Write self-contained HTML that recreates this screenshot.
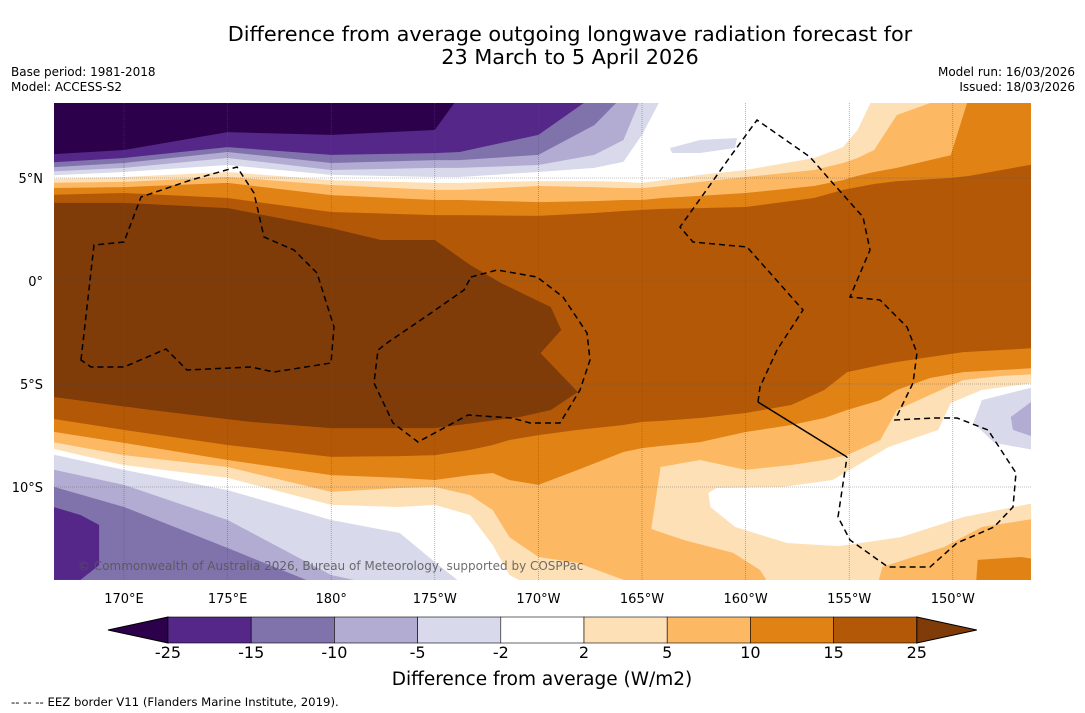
<!DOCTYPE html>
<html><head><meta charset="utf-8"><style>
body{margin:0;background:#fff;width:1085px;height:713px;overflow:hidden;font-family:"DejaVu Sans","Liberation Sans",sans-serif;}
svg{display:block}
</style></head><body>
<svg id="chart" width="1085" height="713" viewBox="0 0 1085 713">
<text x="570" y="41" text-anchor="middle" font-size="20.8" fill="#000">Difference from average outgoing longwave radiation forecast for</text>
<text x="570" y="64" text-anchor="middle" font-size="20.8" fill="#000">23 March to 5 April 2026</text>
<text x="11" y="76" font-size="12">Base period: 1981-2018</text>
<text x="11" y="91" font-size="12">Model: ACCESS-S2</text>
<text x="1075" y="76" font-size="12" text-anchor="end">Model run: 16/03/2026</text>
<text x="1075" y="91" font-size="12" text-anchor="end">Issued: 18/03/2026</text>
<defs><clipPath id="mapclip"><rect x="54" y="103" width="977" height="477"/></clipPath></defs>
<g id="map" clip-path="url(#mapclip)"></g>
<g id="axes"></g>
<g id="cbar"></g>
<text x="542" y="685" text-anchor="middle" font-size="18.5">Difference from average (W/m2)</text>
<text x="11" y="706" font-size="11.7">--  --  -- EEZ border V11 (Flanders Marine Institute, 2019).</text>
</svg>
<script>
const NS="http://www.w3.org/2000/svg";
const COLORS=["#2d004b","#542788","#8073ac","#b2abd2","#d8daeb","#ffffff","#fee0b6","#fdb863","#e08214","#b35806","#7f3b08"];
const LEVELS=["-25","-15","-10","-5","-2","2","5","10","15","25"];
const LON_TICKS=[170,175,180,185,190,195,200,205,210];
const LON_LABELS=["170°E","175°E","180°","175°W","170°W","165°W","160°W","155°W","150°W"];
const LAT_TICKS=[5,0,-5,-10];
const LAT_LABELS=["5°N","0°","5°S","10°S"];
const lonsN=[166.6,170,175,180,185,186.2,190,192.7,194.1,195,196,197.8,200,203.3,204.7,205.4,206.2,207.3,209.9,210.8,213.8];
const nOrange=[4.17,4.27,4.03,3.35,3.20,3.20,3.16,3.30,3.40,3.45,3.50,3.54,3.59,4.03,4.42,4.56,4.71,4.85,5.0,5.10,5.87];
const nLightOrange=[4.51,4.56,4.76,4.17,3.93,3.93,3.83,3.88,3.93,3.93,4.03,4.13,4.27,4.61,4.90,5.10,5.29,5.49,6.1,9,9];
const nTan=[4.76,4.81,5.05,4.66,4.42,4.42,4.61,4.56,4.51,4.51,4.61,4.81,5.05,5.39,5.73,5.97,6.36,8.06,9,9,9];
const nWhite=[4.95,5.05,5.29,4.90,4.76,4.76,4.85,4.85,4.81,4.76,4.90,5.15,5.39,5.97,6.50,7.33,9,9,9,9,9];
const nLav1=[5.10,5.29,5.63,5.15,5.05,5.05,5.29,5.49,5.78,7.09,9,9,9,9,9,9,9,9,9,9,9];
const nLav2=[5.29,5.49,5.97,5.39,5.49,5.49,5.63,6.12,6.84,9,9,9,9,9,9,9,9,9,9,9,9];
const nPur1=[5.49,5.73,6.26,5.73,5.87,5.87,6.12,7.57,9,9,9,9,9,9,9,9,9,9,9,9,9];
const nPur2=[5.73,5.97,6.50,6.12,6.21,6.26,7.09,9,9,9,9,9,9,9,9,9,9,9,9,9,9];
const nPur3=[6.12,6.36,7.23,7.09,7.33,9,9,9,9,9,9,9,9,9,9,9,9,9,9,9,9];
const lonsS=[166.6,170,175,180,183.3,185,186.7,187.8,188.6,190,191.9,194.1,195,195.9,197.8,200,202.2,203.8,204.9,206.5,207.3,208.9,210.5,212.3,213.8];
const sOrange=[-6.60,-7.23,-7.96,-8.54,-8.50,-8.45,-8.20,-7.96,-7.72,-7.48,-7.23,-6.99,-6.84,-6.79,-6.65,-6.41,-6.02,-5.29,-4.42,-4.08,-3.93,-3.69,-3.45,-3.35,-3.20];
const sLightOrange=[-7.23,-7.86,-8.69,-9.42,-9.56,-9.66,-9.42,-9.32,-9.66,-9.90,-9.17,-8.30,-8.11,-8.01,-7.82,-7.33,-6.99,-6.65,-6.26,-5.78,-5.29,-4.71,-4.42,-4.32,-4.17];
const sTan=[-7.72,-8.45,-9.03,-10.24,-10.05,-10.0,-10.39,-11.12,-12.43,-13.40,-13.69,-14.5,-15,-9.03,-8.69,-9.17,-8.93,-8.69,-8.45,-7.72,-6.26,-5.53,-4.81,-4.61,-4.47];
const sWhite=[-8.01,-8.93,-9.56,-10.87,-10.97,-10.87,-11.36,-12.82,-14.27,-15,-15,-15,-15,-15,-15,-15,-15,-15,-15,-15,-15,-15,-15,-15,-15];
const sLav1=[-8.30,-9.17,-10.15,-11.60,-12.23,-13.64,-15,-15,-15,-15,-15,-15,-15,-15,-15,-15,-15,-15,-15,-15,-15,-15,-15,-15,-15];
const sLav2=[-9.03,-9.90,-11.60,-14.27,-15,-15,-15,-15,-15,-15,-15,-15,-15,-15,-15,-15,-15,-15,-15,-15,-15,-15,-15,-15,-15];
const sPur1=[-9.81,-10.97,-12.96,-15,-15,-15,-15,-15,-15,-15,-15,-15,-15,-15,-15,-15,-15,-15,-15,-15,-15,-15,-15,-15,-15];
const corePatch=[[166.6,3.79],[170,3.79],[175,3.54],[180,2.57],[182.4,1.99],[185,1.99],[186.7,0.78],[188.2,-0.10],[189.6,-0.78],[190.6,-1.26],[191.1,-2.38],[190.1,-3.50],[191.9,-5.39],[190.6,-6.26],[189.1,-6.60],[185,-7.14],[180,-7.14],[176.1,-6.84],[171.3,-6.26],[166.6,-5.63]];
const tongue=[[194.8,-10.29],[193.9,-10.97],[194.6,-11.75],[197.0,-12.57],[199.4,-13.20],[200.7,-14.03],[201.0,-14.51],[201.0,-15.5],[194.6,-15.5]];
const whiteIsland=[[198.2,-10.29],[198.6,-10.05],[201.8,-10.0],[204.2,-9.66],[206.9,-8.06],[209.3,-7.23],[209.9,-5.92],[211.4,-5.29],[213.9,-4.95],[213.9,-10.78],[210.5,-11.46],[207.5,-12.43],[204.5,-12.87],[202.0,-12.72],[199.5,-11.94],[198.3,-10.97]];
const lavIsland=[[213.9,-5.15],[211.4,-5.78],[211,-6.89],[212,-7.86],[213.9,-8.20]];
const lav2Island=[[213.9,-5.78],[212.8,-6.60],[212.9,-7.23],[213.9,-7.57]];
const tanBR=[[206.3,-15],[206.6,-13.88],[209.6,-12.91],[211.4,-11.94],[213.9,-11.55],[213.9,-15]];
const orangeBR=[[211.1,-15],[211.2,-13.54],[213.3,-13.40],[213.9,-13.50],[213.9,-15]];
const purBL=[[166.6,-10.97],[167.9,-11.36],[168.8,-11.84],[168.8,-13.79],[167.9,-14.51],[166.6,-14.51]];

const X=lon=>124+(lon-170)*20.72;
const Y=lat=>281-lat*20.6;
const mapG=document.getElementById('map');
function poly(pts,fill,name){
  const p=document.createElementNS(NS,'polygon');
  p.setAttribute('points',pts.map(q=>X(q[0]).toFixed(1)+','+Y(q[1]).toFixed(1)).join(' '));
  p.setAttribute('fill',fill);
  
  
  mapG.appendChild(p);
}
function rect(x,y,w,h,fill,name){
  const r=document.createElementNS(NS,'rect');
  r.setAttribute('x',x);r.setAttribute('y',y);r.setAttribute('width',w);r.setAttribute('height',h);r.setAttribute('fill',fill);
  
  
  mapG.appendChild(r);
}
rect(54,103,977,477,COLORS[9],'band-15-to-25');
function fromTop(lons,lats,fill,name){
  const pts=[[166,10]].concat(lons.map((l,i)=>[l,lats[i]]));pts.push([215,10]);
  pts[1][0]=166;pts[pts.length-2][0]=215;
  poly(pts,fill,name);
}
function fromBottom(lons,lats,fill,name){
  const pts=[[166,-16]].concat(lons.map((l,i)=>[l,lats[i]]));pts.push([215,-16]);
  pts[1][0]=166;pts[pts.length-2][0]=215;
  poly(pts,fill,name);
}
fromTop(lonsN,nOrange,COLORS[8],'north-band-10-to-15');
fromTop(lonsN,nLightOrange,COLORS[7],'north-band-5-to-10');
fromTop(lonsN,nTan,COLORS[6],'north-band-2-to-5');
fromTop(lonsN,nWhite,COLORS[5],'north-band-neutral');
fromTop(lonsN,nLav1,COLORS[4],'north-band-minus5-to-minus2');
fromTop(lonsN,nLav2,COLORS[3],'north-band-minus10-to-minus5');
fromTop(lonsN,nPur1,COLORS[2],'north-band-minus15-to-minus10');
fromTop(lonsN,nPur2,COLORS[1],'north-band-minus25-to-minus15');
fromTop(lonsN,nPur3,COLORS[0],'north-band-below-minus25');
fromBottom(lonsS,sOrange,COLORS[8],'south-band-10-to-15');
fromBottom(lonsS,sLightOrange,COLORS[7],'south-band-5-to-10');
fromBottom(lonsS,sTan,COLORS[6],'south-band-2-to-5');
fromBottom(lonsS,sWhite,COLORS[5],'south-band-neutral');
fromBottom(lonsS,sLav1,COLORS[4],'south-band-minus5-to-minus2');
fromBottom(lonsS,sLav2,COLORS[3],'south-band-minus10-to-minus5');
fromBottom(lonsS,sPur1,COLORS[2],'south-band-minus15-to-minus10');
poly(purBL,COLORS[1],'south-purple-patch');
poly(tongue,COLORS[7],'south-orange-tongue');
poly(whiteIsland,COLORS[5],'east-neutral-patch');
poly(lavIsland,COLORS[4],'east-lavender-patch');
poly(lav2Island,COLORS[3],'east-lavender-core');
poly(tanBR,COLORS[7],'southeast-orange-patch');
poly(orangeBR,COLORS[8],'southeast-dark-orange-patch');
poly(corePatch,COLORS[10],'core-above-25');
(function(){const p=document.createElementNS(NS,'polygon');
p.setAttribute('points','670,148 700,140 737,138 735,148 700,153 672,153');p.setAttribute('fill','#d8daeb');


mapG.appendChild(p);})();
LON_TICKS.forEach(l=>{const ln=document.createElementNS(NS,'line');ln.setAttribute('x1',X(l));ln.setAttribute('x2',X(l));ln.setAttribute('y1',103);ln.setAttribute('y2',580);ln.setAttribute('stroke','#555');ln.setAttribute('stroke-width','0.6');ln.setAttribute('stroke-dasharray','1 1');ln.setAttribute('opacity','0.7');


mapG.appendChild(ln);});
LAT_TICKS.forEach(l=>{const ln=document.createElementNS(NS,'line');ln.setAttribute('y1',Y(l));ln.setAttribute('y2',Y(l));ln.setAttribute('x1',54);ln.setAttribute('x2',1031);ln.setAttribute('stroke','#555');ln.setAttribute('stroke-width','0.6');ln.setAttribute('stroke-dasharray','1 1');ln.setAttribute('opacity','0.7');


mapG.appendChild(ln);});
function eez(d,dash,name){const p=document.createElementNS(NS,'path');p.setAttribute('d',d);p.setAttribute('fill','none');p.setAttribute('stroke','#000');p.setAttribute('stroke-width','1.5');if(dash)p.setAttribute('stroke-dasharray','6 4');


mapG.appendChild(p);}
eez('M81,360 L94,245 L124,242 L141,197 L191,180 L237,167 L254,193 L264,237 L294,250 L317,273 L334,327 L331,363 L274,372 L251,367 L187,370 L166,349 L124,367 L91,367 Z',true,'eez-border-tuvalu');
eez('M471,277 L497,270 L537,277 L563,297 L587,333 L590,360 L580,390 L560,423 L530,423 L512,418 L468,415 L418,442 L393,423 L374,383 L378,350 L387,343 L431,313 L464,290 Z',true,'eez-border-tokelau');
eez('M758,402 L760,387 L777,350 L803,310 L747,247 L693,242 L680,227 L730,157 L757,120 L810,157 L830,180 L863,217 L870,250 L850,297 L880,300 L907,327 L917,353 L913,383 L895,420 L935,418 L957,418 L988,430 L1016,473 L1013,507 L994,527 L957,543 L930,567 L888,567 L850,540 L838,517 L847,457',true,'eez-border-kiribati');
eez('M758,402 L847,457',false,'eez-border-solid-segment');
(function(){const t=document.createElementNS(NS,'text');t.setAttribute('x',78);t.setAttribute('y',570);t.setAttribute('font-size','12');t.setAttribute('fill','#555');t.setAttribute('opacity','0.85');t.textContent='© Commonwealth of Australia 2026, Bureau of Meteorology, supported by COSPPac';


mapG.appendChild(t);})();
const ax=document.getElementById('axes');
LON_TICKS.forEach((l,i)=>{const t=document.createElementNS(NS,'text');t.setAttribute('x',X(l));t.setAttribute('y',603);t.setAttribute('text-anchor','middle');t.setAttribute('font-size','13');t.textContent=LON_LABELS[i];


ax.appendChild(t);});
LAT_TICKS.forEach((l,i)=>{const t=document.createElementNS(NS,'text');t.setAttribute('x',43);t.setAttribute('y',Y(l)+5);t.setAttribute('text-anchor','end');t.setAttribute('font-size','13');t.textContent=LAT_LABELS[i];


ax.appendChild(t);});
const cb=document.getElementById('cbar');
const cbX0=168,cbW=83.2,cbY=617,cbH=26;
function cbel(tag,attrs,name){const e=document.createElementNS(NS,tag);for(const k in attrs)e.setAttribute(k,attrs[k]);


cb.appendChild(e);return e;}
cbel('polygon',{points:`${cbX0},${cbY} 108,${cbY+cbH/2} ${cbX0},${cbY+cbH}`,fill:COLORS[0],stroke:'#000','stroke-width':1},'colorbar-min-extension');
for(let i=0;i<9;i++){cbel('rect',{x:cbX0+i*cbW,y:cbY,width:cbW,height:cbH,fill:COLORS[i+1],stroke:'#000','stroke-width':0.6},'colorbar-segment');}
const endX=cbX0+9*cbW;
cbel('polygon',{points:`${endX},${cbY} ${endX+60},${cbY+cbH/2} ${endX},${cbY+cbH}`,fill:COLORS[10],stroke:'#000','stroke-width':1},'colorbar-max-extension');
LEVELS.forEach((v,i)=>{const t=cbel('text',{x:cbX0+i*cbW,y:658,'text-anchor':'middle','font-size':'16'},'colorbar-tick-label');t.textContent=v;});
</script>
</body></html>
